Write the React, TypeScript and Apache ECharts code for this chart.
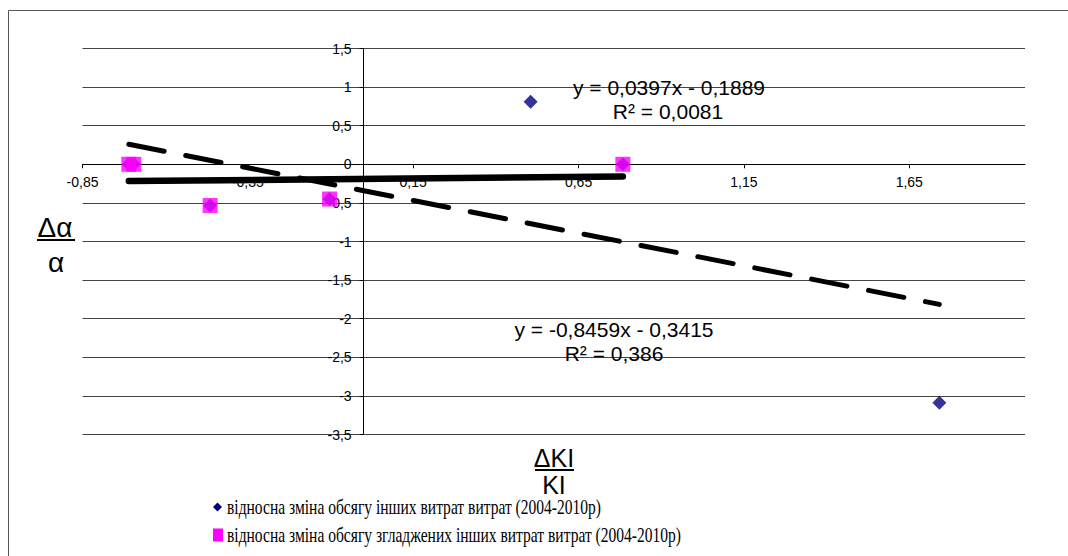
import { useEffect, useRef } from "react";
import * as echarts from "echarts";

// Relative change of other expenses (raw) and the smoothed series
const rawName = "відносна зміна обсягу інших витрат витрат (2004-2010р)";
const smoothName = "відносна зміна обсягу згладжених інших витрат витрат (2004-2010р)";

const rawX = [-0.71, -0.695, -0.464, -0.103, 0.505, 0.784, 1.741];
const rawY = [0, 0, -0.534, -0.45, 0.81, 0, -3.09];

const smoothX = [-0.71, -0.695, -0.464, -0.103, 0.784];
const smoothY = [0, 0, -0.534, -0.45, 0];

// Linear trend coefficients
const rawSlope = -0.8459;
const rawIntercept = -0.3415;
const rawR2 = 0.386;
const smoothSlope = 0.0397;
const smoothIntercept = -0.1889;
const smoothR2 = 0.0081;

const xTicks = [-0.85, -0.35, 0.15, 0.65, 1.15, 1.65];
const xMin = -0.85;
const xMax = 2.0;
const yMin = -3.5;
const yMax = 1.5;
const yStep = 0.5;

// plot frame
const W = 1068;
const H = 556;
const gridLeft = 82.5;
const gridRight = 43;
const gridTop = 48.5;
const gridBottom = 121.5;

const comma = (v: number, digits?: number) =>
  (digits === undefined ? String(v) : v.toFixed(digits)).replace(".", ",");

const equation = (slope: number, intercept: number) =>
  `y = ${comma(slope)}x ${intercept < 0 ? "-" : "+"} ${comma(Math.abs(intercept))}`;

const trendPoints = (xs: number[], slope: number, intercept: number) => {
  const lo = Math.min(...xs);
  const hi = Math.max(...xs);
  return [
    [lo, slope * lo + intercept],
    [hi, slope * hi + intercept],
  ];
};

const zip = (xs: number[], ys: number[]) => xs.map((x, i) => [x, ys[i]]);

export default function App() {
  const ref = useRef<HTMLDivElement>(null);

  useEffect(() => {
    if (!ref.current) return;
    const chart = echarts.init(ref.current, null, { renderer: "svg" });
    const sans = "Liberation Sans, Arial, sans-serif";
    const serif = "Liberation Serif, Times New Roman, serif";

    // axes cross each other at zero
    const plotW = W - gridLeft - gridRight;
    const plotH = H - gridTop - gridBottom;
    const yAxisShift = -plotW * ((0 - xMin) / (xMax - xMin));
    const xAxisShift = -plotH * ((0 - yMin) / (yMax - yMin));

    const centered = (x: number, y: number, text: string, size: number) => ({
      type: "text",
      x,
      y,
      z: 10,
      style: {
        text,
        fontFamily: sans,
        fontSize: size,
        fill: "#000",
        align: "center",
        verticalAlign: "middle",
      },
    });

    const legendRow = (y: number, symbol: any, text: string) => ({
      type: "group",
      x: 213,
      y,
      children: [
        symbol,
        {
          type: "text",
          x: 14,
          y: 0,
          scaleX: 0.74,
          style: {
            text,
            fontFamily: serif,
            fontSize: 21,
            fill: "#000",
            align: "left",
            verticalAlign: "middle",
          },
        },
      ],
    });

    chart.setOption({
      animation: false,
      backgroundColor: "#fff",
      grid: {
        left: gridLeft,
        right: gridRight,
        top: gridTop,
        bottom: gridBottom,
        containLabel: false,
        outerBoundsMode: "none",
      },
      xAxis: {
        type: "value",
        min: xMin,
        max: xMax,
        position: "bottom",
        offset: xAxisShift,
        axisLine: { onZero: false, lineStyle: { color: "#000", width: 1 } },
        axisTick: {
          show: true,
          length: 4,
          customValues: xTicks,
          lineStyle: { color: "#000" },
        },
        axisLabel: {
          customValues: xTicks,
          formatter: (v: number) => comma(v, 2),
          color: "#000",
          fontFamily: sans,
          fontSize: 14,
          margin: 11,
        },
        splitLine: { show: false },
      },
      yAxis: {
        type: "value",
        min: yMin,
        max: yMax,
        interval: yStep,
        position: "left",
        offset: yAxisShift,
        axisLine: { onZero: false, lineStyle: { color: "#000", width: 1 } },
        axisTick: { show: true, length: 4, lineStyle: { color: "#000" } },
        axisLabel: {
          formatter: (v: number) => comma(Math.round(v * 10) / 10),
          color: "#000",
          fontFamily: sans,
          fontSize: 14,
          margin: 12,
        },
        splitLine: { show: true, lineStyle: { color: "#444", width: 1 } },
      },
      series: [
        {
          name: rawName,
          type: "scatter",
          symbol: "diamond",
          symbolSize: [14, 14],
          itemStyle: { color: "#000080" },
          data: zip(rawX, rawY),
          z: 3,
        },
        {
          name: smoothName,
          type: "scatter",
          symbol: "rect",
          symbolSize: 15,
          itemStyle: { color: "#ff00ff" },
          data: zip(smoothX, smoothY),
          z: 4,
        },
        {
          name: "raw trend",
          type: "line",
          showSymbol: false,
          symbol: "none",
          lineStyle: { color: "#000", width: 5, type: [36, 22], cap: "round" },
          data: trendPoints(rawX, rawSlope, rawIntercept),
          z: 5,
        },
        {
          name: "smooth trend",
          type: "line",
          showSymbol: false,
          symbol: "none",
          lineStyle: { color: "#000", width: 6.5, cap: "round" },
          data: trendPoints(smoothX, smoothSlope, smoothIntercept),
          z: 5,
        },
      ],
      graphic: [
        {
          type: "rect",
          shape: { x: 8.5, y: 10.5, width: 1100, height: 600 },
          style: { fill: "none", stroke: "#555", lineWidth: 1 },
          silent: true,
          z: -1,
        },
        centered(669, 87, equation(smoothSlope, smoothIntercept), 21),
        centered(668, 111, `R² = ${comma(smoothR2)}`, 21),
        centered(614, 329, equation(rawSlope, rawIntercept), 21),
        centered(614, 353, `R² = ${comma(rawR2)}`, 21),
        // y-axis title: Δα / α
        centered(55, 227, "Δα", 28),
        {
          type: "line",
          shape: { x1: 37, y1: 240, x2: 75, y2: 240 },
          style: { stroke: "#000", lineWidth: 2 },
        },
        centered(56, 262, "α", 28),
        // x-axis title: ΔKI / KI
        centered(554, 458, "ΔKI", 25),
        {
          type: "line",
          shape: { x1: 535, y1: 470, x2: 574, y2: 470 },
          style: { stroke: "#000", lineWidth: 2 },
        },
        centered(554, 485, "KI", 25),
        // legend
        legendRow(507, {
          type: "polygon",
          shape: { points: [[4.5, -4.5], [9, 0], [4.5, 4.5], [0, 0]] },
          style: { fill: "#000080" },
        }, rawName),
        legendRow(535, {
          type: "rect",
          shape: { x: 0, y: -6.5, width: 10, height: 13 },
          style: { fill: "#ff00ff" },
        }, smoothName),
      ],
    });

    return () => chart.dispose();
  }, []);

  return (
    <div
      ref={ref}
      style={{ position: "fixed", left: 0, top: 0, width: W, height: H }}
    />
  );
}
